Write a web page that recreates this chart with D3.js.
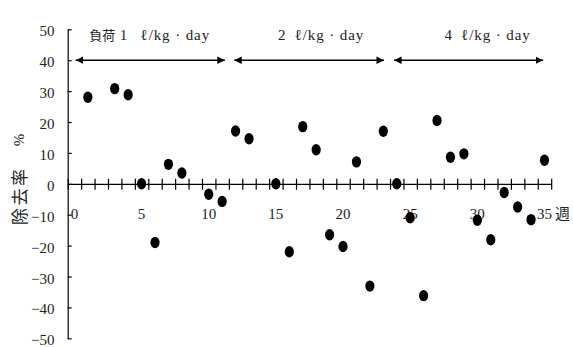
<!DOCTYPE html>
<html>
<head>
<meta charset="utf-8">
<script src="https://cdn.jsdelivr.net/npm/d3@7"></script>
<style>
  html, body { margin: 0; padding: 0; background: #fff; }
  svg { display: block; }
  text { font-family: "Liberation Serif", "DejaVu Serif", "Noto Sans CJK JP", serif; fill: #222; }
</style>
</head>
<body>
<script>
// Weekly removal rate (%) under three loading periods
const weeks   = [1, 3, 4, 5, 6, 7, 8, 10, 11, 12, 13, 15, 16, 17, 18, 19, 20, 21, 22, 23,
                 24, 25, 26, 27, 28, 29, 30, 31, 32, 33, 34, 35];
const removal = [28, 30.8, 28.8, 0, -19, 6.3, 3.5, -3.4, -5.7, 17.1, 14.6, 0, -22, 18.5, 11, -16.5, -20.3, 7.1, -33.1, 17,
                 0, -11, -36.2, 20.5, 8.6, 9.7, -11.8, -18.1, -2.8, -7.5, -11.6, 7.6];

const xTickLabels = [0, 5, 10, 15, 20, 25, 30, 35];
const yTicks = [50, 40, 30, 20, 10, 0, -10, -20, -30, -40, -50];

// Loading periods: span of each arrow (weeks) and its label
const periodPrefix = ["負荷", "", ""];
const periodLabels = [" 1\u2002\u2009ℓ/kg · day", "2\u2002ℓ/kg · day", "4\u2002ℓ/kg · day"];
const periodStart  = [0.1, 11.9, 23.8];
const periodEnd    = [11.2, 23.05, 34.9];
const periodLabelAt = [1.1, 15.15, 27.55];
const periodLevel = 40;

const W = 573, H = 347;
const svg = d3.select("body").append("svg").attr("width", W).attr("height", H);

const x = d3.scaleLinear().domain([-0.5, 35.5]).range([67.7, 551.2]);
const y = d3.scaleLinear().domain([-50, 50]).range([338.3, 29.3]);

const defs = svg.append("defs");
defs.append("marker").attr("id", "head").attr("viewBox", "0 0 10 10")
  .attr("refX", 10).attr("refY", 5).attr("markerWidth", 7.5).attr("markerHeight", 7.5)
  .attr("markerUnits", "userSpaceOnUse").attr("orient", "auto-start-reverse")
  .append("path").attr("d", "M0,0 L10,5 L0,10 Z").attr("fill", "#000");

// Y axis (ticks pointing inward)
const yAxis = svg.append("g").attr("transform", `translate(${x(-0.5)},0)`)
  .call(d3.axisRight(y).tickValues(yTicks).tickSize(4).tickSizeOuter(0).tickFormat(""));
yAxis.select(".domain").attr("stroke", "#000").attr("stroke-width", 1.2);
yAxis.selectAll(".tick line").attr("stroke", "#000").attr("stroke-width", 1.2);

svg.append("g").selectAll("text").data(yTicks).join("text")
  .attr("x", 54.5).attr("y", d => y(d) + 7)
  .attr("text-anchor", "end").attr("font-size", 15)
  .text(d => d < 0 ? "\u2212" + Math.abs(d) : d);

// X axis along zero with crossing ticks at week boundaries
const xAxis = svg.append("g").attr("transform", `translate(0,${y(0)})`)
  .call(d3.axisBottom(x).tickValues(d3.range(-0.5, 36, 1)).tickSize(0).tickSizeOuter(0).tickFormat(""));
xAxis.select(".domain").attr("stroke", "#000").attr("stroke-width", 1.2);
xAxis.selectAll(".tick line").attr("y1", -5).attr("y2", 6).attr("stroke", "#000").attr("stroke-width", 1.2);

svg.append("g").selectAll("text").data(xTickLabels).join("text")
  .attr("x", d => x(d)).attr("y", 218.5)
  .attr("text-anchor", "middle").attr("font-size", 15)
  .text(d => d);

svg.append("text").attr("x", 555).attr("y", 218.5).attr("font-size", 15)
  .attr("font-family", "Noto Sans CJK JP").text("週");

// Y axis title (reads bottom to top)
const yTitle = svg.append("g").attr("transform", "translate(26,225) rotate(-90)");
yTitle.append("text").attr("x", 0).attr("y", 0)
  .attr("font-size", 17).attr("letter-spacing", 2.5)
  .attr("font-family", "Noto Sans CJK JP").text("除去率");
yTitle.append("text").attr("x", 85).attr("y", -2)
  .attr("text-anchor", "middle").attr("font-size", 15)
  .text("%");

// Period arrows and labels
const periods = d3.range(periodLabels.length);
svg.append("g").selectAll("line").data(periods).join("line")
  .attr("x1", i => x(periodStart[i])).attr("x2", i => x(periodEnd[i]))
  .attr("y1", y(periodLevel)).attr("y2", y(periodLevel))
  .attr("stroke", "#000").attr("stroke-width", 1.4)
  .attr("marker-start", "url(#head)").attr("marker-end", "url(#head)");

const labels = svg.append("g").selectAll("text").data(periods).join("text")
  .attr("x", i => x(periodLabelAt[i])).attr("y", 40)
  .attr("font-size", 15);
labels.append("tspan")
  .attr("font-family", "Noto Sans CJK JP").attr("font-size", 13)
  .text(i => periodPrefix[i]);
labels.append("tspan")
  .attr("letter-spacing", 0.9)
  .text(i => periodLabels[i]);

// Data points
svg.append("g").selectAll("ellipse").data(weeks).join("ellipse")
  .attr("cx", (d, i) => x(d)).attr("cy", (d, i) => y(removal[i]))
  .attr("rx", 4.6).attr("ry", 5.7).attr("fill", "#000");
</script>
</body>
</html>
